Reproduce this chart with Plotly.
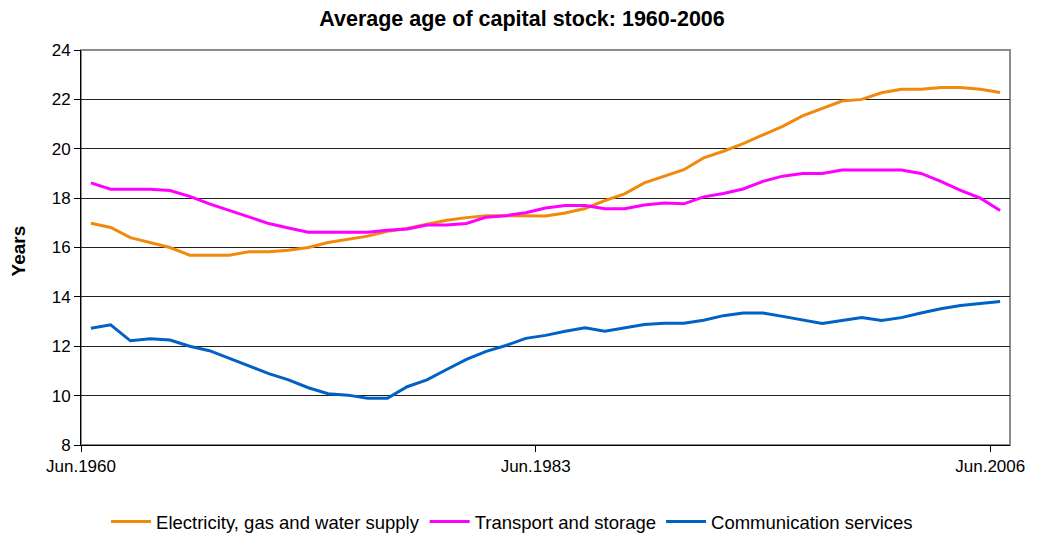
import plotly.graph_objects as go

years = list(range(1960, 2007))

electricity_gas_water = [
    16.98, 16.81, 16.40, 16.19, 16.00, 15.69, 15.69, 15.69, 15.83, 15.83,
    15.89, 16.00, 16.20, 16.32, 16.46, 16.66, 16.77, 16.94, 17.10, 17.21,
    17.29, 17.29, 17.28, 17.28, 17.40, 17.58, 17.90, 18.17, 18.62, 18.87,
    19.15, 19.63, 19.90, 20.21, 20.57, 20.91, 21.33, 21.64, 21.93, 22.00,
    22.27, 22.41, 22.41, 22.48, 22.48, 22.41, 22.28,
]

transport_storage = [
    18.62, 18.36, 18.36, 18.36, 18.31, 18.07, 17.77, 17.50, 17.21, 16.97,
    16.79, 16.62, 16.62, 16.62, 16.62, 16.70, 16.75, 16.91, 16.91, 16.97,
    17.23, 17.29, 17.41, 17.60, 17.70, 17.70, 17.57, 17.57, 17.72, 17.80,
    17.77, 18.05, 18.19, 18.37, 18.68, 18.89, 19.00, 19.00, 19.14, 19.14,
    19.14, 19.14, 19.00, 18.68, 18.31, 18.00, 17.50,
]

communication = [
    12.73, 12.87, 12.22, 12.30, 12.25, 12.00, 11.82, 11.50, 11.19, 10.89,
    10.64, 10.32, 10.08, 10.02, 9.89, 9.89, 10.36, 10.64, 11.06, 11.47,
    11.79, 12.03, 12.32, 12.44, 12.61, 12.75, 12.61, 12.75, 12.88, 12.93,
    12.93, 13.05, 13.24, 13.35, 13.35, 13.21, 13.05, 12.92, 13.04, 13.16,
    13.04, 13.16, 13.35, 13.52, 13.65, 13.72, 13.81,
]

series_names = [
    "Electricity, gas and water supply",
    "Transport and storage",
    "Communication services",
]
series_colors = ["#F08A0C", "#FF00FF", "#0062C4"]

x_tick_vals = [1959.5, 1982.5, 2005.5]
x_tick_text = ["Jun.1960", "Jun.1983", "Jun.2006"]
y_ticks = [8, 10, 12, 14, 16, 18, 20, 22, 24]

font_family = "Liberation Sans, Arial, sans-serif"

fig = go.Figure()
for name, vals, color in zip(series_names,
                             [electricity_gas_water, transport_storage, communication],
                             series_colors):
    fig.add_trace(go.Scatter(
        x=years, y=vals, mode="lines", name=name,
        line=dict(color=color, width=3),
    ))

fig.update_layout(
    width=1044, height=535,
    margin=dict(l=81, r=34, t=50, b=90, autoexpand=False),
    paper_bgcolor="white", plot_bgcolor="white",
    font=dict(family=font_family, color="black", size=17),
    title=dict(
        text="<b>Average age of capital stock: 1960-2006</b>",
        x=0.5, xanchor="center", y=0.966, yanchor="middle",
        font=dict(size=21.5, family=font_family, color="black"),
    ),
    showlegend=True,
    legend=dict(
        orientation="h", x=0.464, xanchor="center", y=-0.195, yanchor="middle",
        font=dict(size=18.5, family=font_family, color="black"),
        itemwidth=40, tracegroupgap=0, bgcolor="rgba(0,0,0,0)",
    ),
    shapes=[dict(
        type="rect", xref="paper", yref="paper", x0=0, x1=1, y0=0, y1=1,
        line=dict(color="#8C8C8C", width=2), layer="below",
    )],
    annotations=[dict(
        text="<b>Years</b>", xref="paper", yref="paper", x=0, y=0.49,
        xanchor="center", yanchor="middle", xshift=-63, textangle=-90,
        showarrow=False, font=dict(size=19, family=font_family, color="black"),
    )],
)

fig.update_xaxes(
    range=[1959.5, 2006.5],
    tickmode="array", tickvals=x_tick_vals, ticktext=x_tick_text,
    ticks="outside", ticklen=6, tickcolor="black", tickwidth=1,
    showline=True, linecolor="black", linewidth=1,
    showgrid=False, zeroline=False,
    tickfont=dict(size=17, family=font_family, color="black"),
)
fig.update_yaxes(
    range=[8, 24],
    tickmode="array", tickvals=y_ticks,
    ticks="outside", ticklen=6, tickcolor="black", tickwidth=1,
    showline=True, linecolor="black", linewidth=1,
    showgrid=True, gridcolor="#222222", gridwidth=1,
    zeroline=False,
    tickfont=dict(size=17, family=font_family, color="black"),
)

fig.write_html(
    "out.html",
    config={"displayModeBar": False},
    post_script="document.body.style.margin='0';document.body.style.overflow='hidden';",
)
